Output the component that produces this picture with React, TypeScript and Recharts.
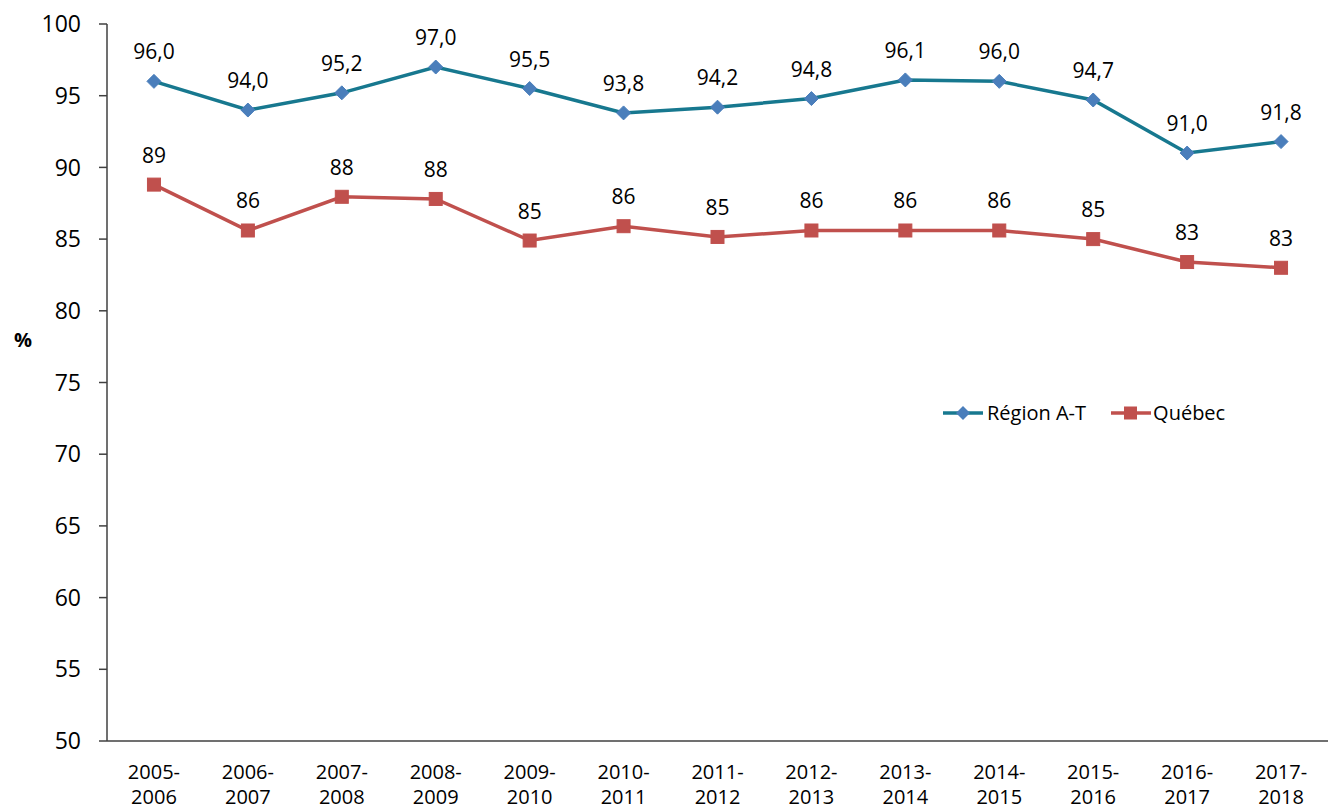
import React from 'react';
import { LineChart, Line, XAxis, YAxis, LabelList, Label } from 'recharts';

const categories = ['2005-2006','2006-2007','2007-2008','2008-2009','2009-2010','2010-2011','2011-2012','2012-2013','2013-2014','2014-2015','2015-2016','2016-2017','2017-2018'];
const regionValues = [96.0, 94.0, 95.2, 97.0, 95.5, 93.8, 94.2, 94.8, 96.1, 96.0, 94.7, 91.0, 91.8];
const quebecValues = [88.8, 85.6, 87.95, 87.8, 84.9, 85.9, 85.15, 85.6, 85.6, 85.6, 85.0, 83.4, 83.0];
const yTicks = [50, 55, 60, 65, 70, 75, 80, 85, 90, 95, 100];

const data = categories.map((c, i) => ({ cat: c, region: regionValues[i], quebec: quebecValues[i] }));

const FONT = '"Open Sans", sans-serif';
const REGION_LINE = '#17788F';
const REGION_MARK = '#4A7EBB';
const QUEBEC = '#C0504D';

const Diamond = (props: any) => {
  const { cx, cy } = props;
  if (cx == null || cy == null) return null;
  const r = 7;
  return <path d={`M${cx},${cy - r}L${cx + r},${cy}L${cx},${cy + r}L${cx - r},${cy}Z`} fill={REGION_MARK} stroke={REGION_MARK} />;
};
const Square = (props: any) => {
  const { cx, cy } = props;
  if (cx == null || cy == null) return null;
  const r = 6.5;
  return <rect x={cx - r} y={cy - r} width={2 * r} height={2 * r} fill={QUEBEC} stroke={QUEBEC} />;
};

const XTick = (props: any) => {
  const { x, y, payload } = props;
  const parts = String(payload.value).split('-');
  return (
    <text x={x} textAnchor="middle" fontFamily={FONT} fontSize={20} fill="#000">
      <tspan x={x} y={y + 38}>{parts[0] + '-'}</tspan>
      <tspan x={x} y={y + 63}>{parts[1]}</tspan>
    </text>
  );
};

const LegendBox = () => (
  <div style={{ position: 'absolute', left: 942, top: 399, display: 'flex', alignItems: 'center', fontFamily: FONT, fontSize: 20, color: '#000', whiteSpace: 'nowrap' }}>
    <svg width={42} height={20} style={{ marginRight: 3 }}>
      <line x1={1} y1={10} x2={41} y2={10} stroke={REGION_LINE} strokeWidth={3.5} />
      <path d="M21,3L28,10L21,17L14,10Z" fill={REGION_MARK} />
    </svg>
    <span style={{ marginRight: 24 }}>Région A-T</span>
    <svg width={42} height={20} style={{ marginRight: 1 }}>
      <line x1={1} y1={10} x2={41} y2={10} stroke={QUEBEC} strokeWidth={3.5} />
      <rect x={14} y={3.5} width={13} height={13} fill={QUEBEC} />
    </svg>
    <span>Québec</span>
  </div>
);

export default function App() {
  return (
    <div style={{ position: 'absolute', left: 0, top: 0, width: 1328, height: 811, background: '#fff' }}>
      <LineChart width={1328} height={811} data={data} margin={{ top: 24, right: 0, left: 0, bottom: 0 }}>
        <XAxis dataKey="cat" scale="band" height={70} tick={<XTick />} tickLine={false} tickSize={0} tickMargin={0}
          axisLine={{ stroke: '#404040', strokeWidth: 1.5 }} interval={0} />
        <YAxis domain={[50, 100]} ticks={yTicks} width={107} tickSize={8} tickMargin={18}
          axisLine={{ stroke: '#404040', strokeWidth: 1.5 }} tickLine={{ stroke: '#404040', strokeWidth: 1.5 }}
          tick={{ fontFamily: FONT, fontSize: 23, fill: '#000' }} interval={0}>
          <Label value="%" position="insideLeft" offset={14} dy={-43} fontFamily={FONT} fontSize={20} fontWeight="bold" fill="#000" />
        </YAxis>
        <Line dataKey="region" stroke={REGION_LINE} strokeWidth={3.5} dot={<Diamond />} activeDot={false} isAnimationActive={false}>
          <LabelList dataKey="region" position="top" offset={22} fontFamily={FONT} fontSize={21} fill="#000"
            formatter={(v: any) => Number(v).toFixed(1).replace('.', ',')} />
        </Line>
        <Line dataKey="quebec" stroke={QUEBEC} strokeWidth={3.5} dot={<Square />} activeDot={false} isAnimationActive={false}>
          <LabelList dataKey="quebec" position="top" offset={22} fontFamily={FONT} fontSize={21} fill="#000"
            formatter={(v: any) => String(Math.round(Number(v)))} />
        </Line>
      </LineChart>
      <LegendBox />
    </div>
  );
}
